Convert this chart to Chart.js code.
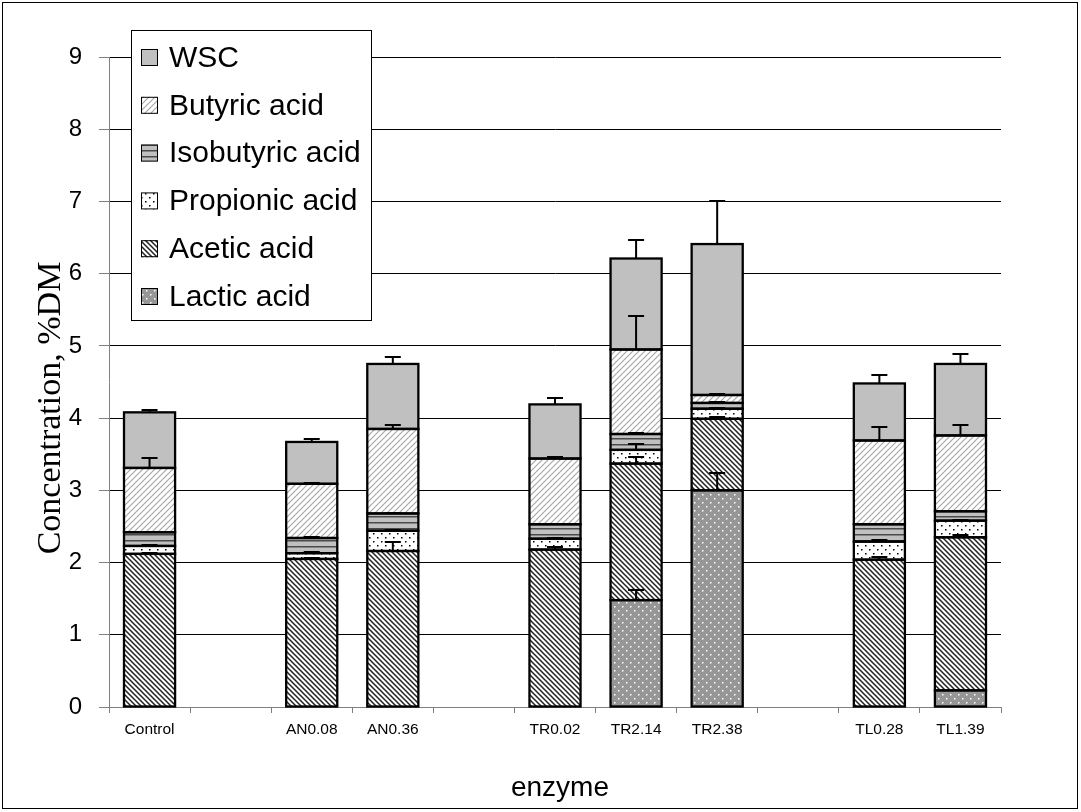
<!DOCTYPE html>
<html>
<head>
<meta charset="utf-8">
<title>Concentration by enzyme</title>
<script src="https://cdn.jsdelivr.net/npm/chart.js@4.4.0/dist/chart.umd.min.js"></script>
<style>
  body { margin: 0; background: #fff; }
  canvas { display: block; }
</style>
</head>
<body>
<canvas id="chart" width="1081" height="812"></canvas>
<script>
// categories (empty slots keep the gaps between enzyme groups)
const categories = ['Control', '', 'AN0.08', 'AN0.36', '', 'TR0.02', 'TR2.14', 'TR2.38', '', 'TL0.28', 'TL1.39'];

// segment values, %DM (bottom to top of each stack)
const lactic     = [0,    null, 0,    0,    null, 0,    1.48, 3.00, null, 0,    0.23];
const acetic     = [2.12, null, 2.05, 2.16, null, 2.18, 1.89, 0.99, null, 2.04, 2.12];
const propionic  = [0.11, null, 0.08, 0.28, null, 0.15, 0.19, 0.14, null, 0.25, 0.23];
const isobutyric = [0.19, null, 0.21, 0.24, null, 0.20, 0.22, 0.08, null, 0.24, 0.13];
const butyric    = [0.89, null, 0.75, 1.17, null, 0.91, 1.17, 0.11, null, 1.16, 1.05];
const wsc        = [0.77, null, 0.58, 0.90, null, 0.75, 1.26, 2.09, null, 0.79, 0.99];

// upper error of each segment
const lacticErr     = [0,    null, 0,    0,    null, 0,    0.14, 0.24, null, 0,    0];
const aceticErr     = [0.01, null, 0.01, 0.12, null, 0.03, 0.09, 0.03, null, 0.04, 0.03];
const propionicErr  = [0.01, null, 0.01, 0.01, null, 0.01, 0.08, 0.01, null, 0.02, 0.01];
const isobutyricErr = [0.01, null, 0.01, 0.01, null, 0.01, 0.02, 0.01, null, 0.01, 0.01];
const butyricErr    = [0.14, null, 0.01, 0.06, null, 0.02, 0.47, 0.02, null, 0.18, 0.15];
const wscErr        = [0.03, null, 0.04, 0.09, null, 0.09, 0.26, 0.59, null, 0.12, 0.14];

const yTicks = [0, 1, 2, 3, 4, 5, 6, 7, 8, 9];

const SANS = "'Liberation Sans', Arial, sans-serif";
const SERIF = "'Liberation Serif', 'Times New Roman', serif";

const canvas = document.getElementById('chart');
const ctx = canvas.getContext('2d');

function makePattern(size, bg, draw) {
    const c = document.createElement('canvas');
    c.width = size;
    c.height = size;
    const p = c.getContext('2d');
    p.fillStyle = bg;
    p.fillRect(0, 0, size, size);
    draw(p, size);
    return ctx.createPattern(c, 'repeat');
}

function diag(p, s, up) {
    p.beginPath();
    if (up) {
        p.moveTo(-1, s + 1); p.lineTo(s + 1, -1);
        p.moveTo(-1, 1); p.lineTo(1, -1);
        p.moveTo(s - 1, s + 1); p.lineTo(s + 1, s - 1);
    } else {
        p.moveTo(-1, -1); p.lineTo(s + 1, s + 1);
        p.moveTo(s - 1, -1); p.lineTo(s + 1, 1);
        p.moveTo(-1, s - 1); p.lineTo(1, s + 1);
    }
    p.stroke();
}

const fills = {
    wsc: '#c0c0c0',
    butyric: makePattern(6, '#ffffff', (p, s) => {
        p.strokeStyle = '#a8a8a8'; p.lineWidth = 1.2; diag(p, s, true);
    }),
    isobutyric: makePattern(6, '#c0c0c0', (p, s) => {
        p.fillStyle = '#4a4a4a'; p.fillRect(0, 0, s, 1.5);
    }),
    propionic: makePattern(8, '#ffffff', (p) => {
        p.fillStyle = '#000';
        p.fillRect(1, 1, 1.5, 1.5);
        p.fillRect(5, 5, 1.5, 1.5);
    }),
    acetic: makePattern(5, '#ffffff', (p, s) => {
        p.strokeStyle = '#222'; p.lineWidth = 1.5; diag(p, s, false);
    }),
    lactic: makePattern(8, '#969696', (p) => {
        p.fillStyle = '#ffffff';
        p.fillRect(2, 2, 1.5, 1.5);
        p.fillRect(6, 6, 1.5, 1.5);
    })
};

function series(label, data, err, fill) {
    return {
        label: label,
        data: data,
        err: err,
        backgroundColor: fill,
        borderWidth: 0,
        categoryPercentage: 1.0,
        barPercentage: 0.63
    };
}

// segment outlines (centred strokes, shared between neighbours) and error bars
const outlinesAndErrors = {
    id: 'outlinesAndErrors',
    afterDatasetsDraw(chart) {
        const c = chart.ctx;
        const y = chart.scales.y;
        const sets = chart.data.datasets;
        c.save();
        c.strokeStyle = '#000';

        c.lineWidth = 2.3;
        sets.forEach((ds, i) => {
            chart.getDatasetMeta(i).data.forEach((bar, j) => {
                if (!ds.data[j]) return;
                const p = bar.getProps(['x', 'y', 'base', 'width'], true);
                c.strokeRect(p.x - p.width / 2, p.y, p.width, p.base - p.y);
            });
        });

        c.lineWidth = 2;
        sets.forEach((ds, i) => {
            chart.getDatasetMeta(i).data.forEach((bar, j) => {
                const e = ds.err[j];
                if (ds.data[j] == null || !e) return;
                let top = 0;
                for (let k = 0; k <= i; k++) top += sets[k].data[j] || 0;
                const y1 = y.getPixelForValue(top);
                const y2 = Math.round(y.getPixelForValue(top + e));
                c.beginPath();
                c.moveTo(bar.x, y1);
                c.lineTo(bar.x, y2);
                c.moveTo(bar.x - 8, y2);
                c.lineTo(bar.x + 8, y2);
                c.stroke();
            });
        });
        c.restore();
    }
};

// legend box inside the plot, axis titles and outer frame
const decorations = {
    id: 'decorations',
    afterDraw(chart) {
        const c = chart.ctx;
        c.save();

        c.strokeStyle = '#000';
        c.lineWidth = 1;
        c.strokeRect(2.5, 2.5, 1075, 806);

        // legend
        c.fillStyle = '#fff';
        c.fillRect(131, 30, 240, 290);
        c.strokeRect(131.5, 30.5, 240, 290);
        const items = chart.data.datasets.slice().reverse();
        c.font = '30px ' + SANS;
        c.textBaseline = 'middle';
        c.textAlign = 'left';
        items.forEach((ds, i) => {
            const cy = 57.5 + i * 47.8;
            c.fillStyle = ds.backgroundColor;
            c.fillRect(141, cy - 8.5, 17, 17);
            c.strokeStyle = '#000';
            c.strokeRect(141.5, cy - 8, 16, 16);
            c.fillStyle = '#000';
            c.fillText(ds.label, 169, cy + 1);
        });

        // axis titles
        c.fillStyle = '#000';
        c.textAlign = 'center';
        c.textBaseline = 'alphabetic';
        c.font = '28px ' + SANS;
        c.fillText('enzyme', 560, 796);

        c.translate(60, 408);
        c.rotate(-Math.PI / 2);
        c.font = '34px ' + SERIF;
        c.fillText('Concentration, %DM', 0, 0);
        c.restore();
    }
};

new Chart(ctx, {
    type: 'bar',
    data: {
        labels: categories,
        datasets: [
            series('Lactic acid', lactic, lacticErr, fills.lactic),
            series('Acetic acid', acetic, aceticErr, fills.acetic),
            series('Propionic acid', propionic, propionicErr, fills.propionic),
            series('Isobutyric acid', isobutyric, isobutyricErr, fills.isobutyric),
            series('Butyric acid', butyric, butyricErr, fills.butyric),
            series('WSC', wsc, wscErr, fills.wsc)
        ]
    },
    options: {
        responsive: false,
        animation: false,
        layout: { padding: { left: 0, right: 80, top: 57, bottom: 0 } },
        plugins: {
            legend: { display: false },
            tooltip: { enabled: false }
        },
        scales: {
            x: {
                stacked: true,
                grid: { offset: true, drawOnChartArea: false, tickLength: 6, color: '#808080' },
                border: { color: '#808080' },
                ticks: {
                    color: '#000',
                    font: { family: SANS, size: 15.5 },
                    maxRotation: 0,
                    autoSkip: false,
                    padding: 7
                },
                afterFit: (scale) => { scale.height = 105; }
            },
            y: {
                stacked: true,
                min: yTicks[0],
                max: yTicks[yTicks.length - 1],
                afterBuildTicks: (scale) => { scale.ticks = yTicks.map(v => ({ value: v })); },
                grid: { color: '#000', tickColor: '#808080', tickLength: 10 },
                border: { color: '#808080' },
                ticks: {
                    color: '#000',
                    font: { family: SANS, size: 24 },
                    padding: 17
                },
                afterFit: (scale) => { scale.width = 109; }
            }
        }
    },
    plugins: [outlinesAndErrors, decorations]
});
</script>
</body>
</html>
